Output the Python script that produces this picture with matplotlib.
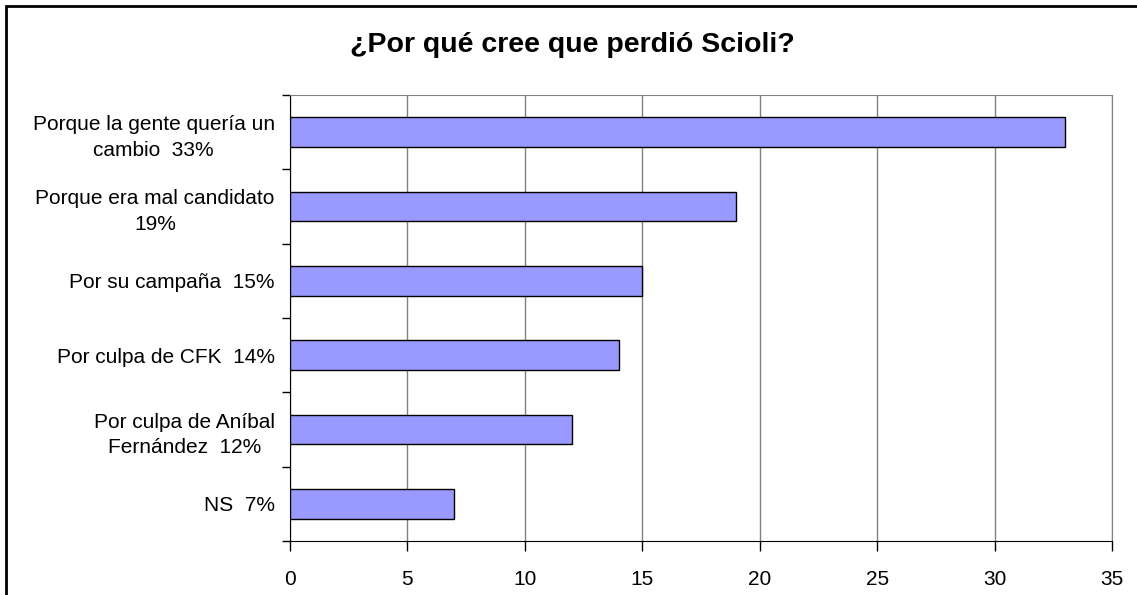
import matplotlib.pyplot as plt
from matplotlib.patches import Rectangle

categorias = ["Porque la gente quería un\ncambio  33%",
              "Porque era mal candidato\n19%",
              "Por su campaña  15%",
              "Por culpa de CFK  14%",
              "Por culpa de Aníbal\nFernández  12%",
              "NS  7%"]
valores = [33, 19, 15, 14, 12, 7]

plt.rcParams["font.family"] = ["Liberation Sans", "DejaVu Sans"]

fig = plt.figure(figsize=(11.37, 5.95), dpi=100)
ax = fig.add_axes([290 / 1137, 1 - 541 / 595, (1112 - 290) / 1137, (541 - 95) / 595])

pos = list(range(len(valores)))[::-1]
ax.barh(pos, valores, height=0.4, color="#9999FF", edgecolor="black", linewidth=1, zorder=3)

ax.set_xlim(0, 35)
ax.set_ylim(-0.5, len(valores) - 0.5)
ax.set_xticks(range(0, 36, 5))
ax.tick_params(axis="x", direction="out", length=7, width=1, labelsize=15, pad=14)
ax.xaxis.grid(True, color="#808080", linewidth=1, zorder=0)

ax.set_yticks(pos)
ax.set_yticklabels(categorias)
ax.tick_params(axis="y", length=0, labelsize=15, pad=11)
for t in ax.get_yticklabels():
    t.set_multialignment("center")
    t.set_linespacing(1.45)
ax.set_yticks([p + 0.5 for p in range(len(valores))] + [-0.5], minor=True)
ax.tick_params(axis="y", which="minor", direction="out", length=6, width=1)

for lado in ["top", "right"]:
    ax.spines[lado].set_color("#808080")
for lado in ["left", "bottom"]:
    ax.spines[lado].set_color("black")

fig.text(572 / 1137, 1 - 45 / 595, "¿Por qué cree que perdió Scioli?",
         ha="center", va="center", fontsize=20.5, fontweight="bold")

# marco exterior
fig.patches.append(Rectangle((6 / 1137, -0.1), 1.2, 1 - 6 / 595 + 0.1,
                             transform=fig.transFigure, fill=False,
                             edgecolor="black", linewidth=2))

fig.savefig("out.png", dpi=100)
